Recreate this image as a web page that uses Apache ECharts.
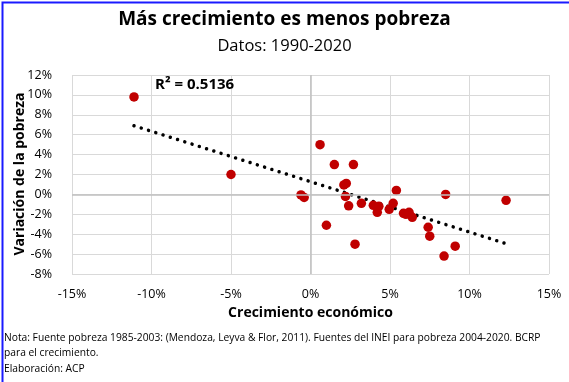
<!DOCTYPE html>
<html><head><meta charset="utf-8">
<script src="https://cdn.jsdelivr.net/npm/echarts@6/dist/echarts.min.js"></script>
<style>html,body{margin:0;padding:0;background:#fff}#c{width:569px;height:382px}</style>
</head><body><div id="c"></div>
<script>
// Growth (%) and change in poverty (%) pairs, 1990-2020
var growth  = [-11.1, -5.0, -0.6, -0.4, 0.6, 1.0, 1.5, 2.1, 2.25, 2.2, 2.4, 2.7, 2.8, 3.2, 3.95, 4.2, 4.3, 4.95, 5.2, 5.4, 5.85, 6.0, 6.2, 6.4, 7.4, 7.5, 8.4, 8.5, 9.1, 12.3];
var poverty = [9.8, 2.0, -0.05, -0.3, 5.0, -3.1, 3.0, 0.95, 1.1, -0.2, -1.15, 3.0, -5.0, -0.9, -1.1, -1.8, -1.2, -1.5, -0.9, 0.4, -1.9, -2.0, -1.8, -2.3, -3.3, -4.2, -6.2, 0.0, -5.2, -0.6];
// Linear trend endpoints
var trendX = [-11.1, 12.3];
var trendY = [6.9, -4.95];
var xTicks = [-15, -10, -5, 0, 5, 10, 15];
var yTicks = [-8, -6, -4, -2, 0, 2, 4, 6, 8, 10, 12];

var pts = growth.map(function(g,i){return [g, poverty[i]];});
var trend = trendX.map(function(x,i){return [x, trendY[i]];});
var FONT = '"Open Sans", "Liberation Sans", sans-serif';
var chart = echarts.init(document.getElementById('c'), null, {renderer:'canvas'});
chart.setOption({
  animation:false,
  textStyle:{fontFamily:FONT},
  title:[
    {text:'Más crecimiento es menos pobreza', left:'center', top:5,
     textStyle:{fontFamily:FONT, fontSize:19, fontWeight:'bold', color:'#000'}},
    {text:'Datos: 1990-2020', left:'center', top:33,
     textStyle:{fontFamily:FONT, fontSize:16.5, fontWeight:'normal', color:'#000'}}
  ],
  grid:{left:72, right:20, top:75, bottom:108, containLabel:false, outerBoundsMode:'none'},
  xAxis:{type:'value', min:xTicks[0], max:xTicks[xTicks.length-1], interval:5,
    name:'Crecimiento económico', nameLocation:'middle', nameGap:28,
    nameTextStyle:{fontFamily:FONT, fontSize:14, fontWeight:'bold', color:'#000'},
    axisLine:{show:false}, axisTick:{show:false},
    axisLabel:{formatter:'{value}%', fontSize:12.5, color:'#000', margin:14},
    splitLine:{lineStyle:{color:'#d9d9d9', width:1}}},
  yAxis:{type:'value', min:yTicks[0], max:yTicks[yTicks.length-1], interval:2,
    axisLine:{show:false}, axisTick:{show:false},
    axisLabel:{formatter:'{value}%', fontSize:12.5, color:'#000', margin:20},
    splitLine:{lineStyle:{color:'#d9d9d9', width:1}}},
  series:[
    {type:'line', data:trend, symbol:'none', silent:true, z:3,
     lineStyle:{color:'#000', width:3.5, type:[0.01,7.6], cap:'round'}},
    {type:'scatter', data:pts, symbol:'circle', symbolSize:9.5, z:4,
     itemStyle:{color:'#C00000', opacity:1},
     markLine:{silent:true, symbol:'none', label:{show:false},
       lineStyle:{color:'#bfbfbf', width:1.5, type:'solid'},
       data:[{xAxis:0},{yAxis:0}]}}
  ],
  graphic:[
    {type:'text', x:20, y:174, rotation:Math.PI/2, z:100,
     style:{text:'Variación de la pobreza', font:'bold 14px '+FONT, fill:'#000', align:'center', verticalAlign:'middle'}},
    {type:'text', left:155, top:77, z:100, style:{text:'R² = 0.5136', font:'bold 15px '+FONT, fill:'#000'}},
    {type:'text', left:4, top:330, z:100, style:{text:'Nota: Fuente pobreza 1985-2003: (Mendoza, Leyva & Flor, 2011). Fuentes del INEI para pobreza 2004-2020. BCRP\npara el crecimiento.\nElaboración: ACP', font:'10.25px '+FONT, fill:'#000', lineHeight:15.5}},
    {type:'rect', left:0, top:0, shape:{width:568, height:381}, style:{fill:'none', stroke:'#1a1aff', lineWidth:2}}
  ]
});
</script></body></html>
